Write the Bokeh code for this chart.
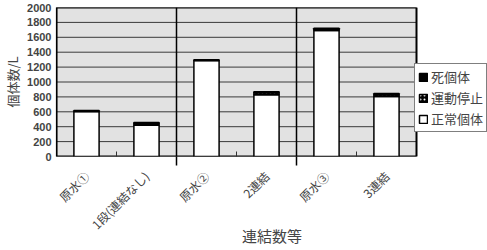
from bokeh.plotting import figure
from bokeh.models import (Range1d, LinearAxis, FixedTicker, Legend, LegendItem, ColumnDataSource)
from bokeh.embed import file_html
from bokeh.resources import INLINE
import math

categories = ["原水①", "1段(連結なし)", "原水②", "2連結", "原水③", "3連結"]
normal = [605, 420, 1290, 830, 1690, 805]
stopped = [0, 25, 0, 25, 15, 25]
dead = [12, 10, 10, 15, 15, 15]
series = ["正常個体", "運動停止", "死個体"]
y_ticks = [0, 200, 400, 600, 800, 1000, 1200, 1400, 1600, 1800, 2000]
separators = [2, 4]
inner_ticks = [1, 3, 5]

JP = "Noto Sans CJK JP"
NUM = "Liberation Sans"

n = len(categories)
xpos = [i + 0.5 for i in range(n)]
src = ColumnDataSource(dict(x=xpos, normal=normal, stopped=stopped, dead=dead))

# frame spans the plot area plus the legend column on the right
p = figure(width=487, height=250, x_range=Range1d(0, n * 431 / 360), y_range=Range1d(0, 2000),
           output_backend="svg", toolbar_location=None, x_axis_location=None,
           min_border_left=56, min_border_right=0, min_border_top=7, min_border_bottom=94)
p.background_fill_color = "white"
p.border_fill_color = "white"
p.outline_line_color = None
p.xgrid.visible = False
p.ygrid.visible = False

# plot area background and grid
p.quad(left=[0], right=[n], bottom=[0], top=[2000], fill_color="#e2e2e2", line_color=None)
p.segment(x0=[0] * len(y_ticks), x1=[n] * len(y_ticks), y0=y_ticks, y1=y_ticks,
          line_color="#3a3a3a", line_width=1)
p.quad(left=[0], right=[n], bottom=[0], top=[2000], fill_color=None,
       line_color="black", line_width=2)

ya = p.yaxis[0]
ya.ticker = FixedTicker(ticks=y_ticks, minor_ticks=[])
ya.axis_label = "個体数/L"
ya.axis_label_text_font = JP
ya.axis_label_text_font_size = "13px"
ya.axis_label_text_font_style = "normal"
ya.axis_label_standoff = 2
ya.major_label_text_font = NUM
ya.major_label_text_font_size = "11px"
ya.major_label_text_font_style = "bold"
ya.major_label_standoff = 5
ya.major_tick_out = 0
ya.major_tick_in = 0
ya.axis_line_color = "black"
ya.axis_line_width = 1.2

# tick-only axis at the frame bottom
tick_axis = LinearAxis(ticker=FixedTicker(ticks=separators, minor_ticks=inner_ticks),
                       major_label_overrides={s: "" for s in separators},
                       major_label_text_font_size="1px", major_label_standoff=0,
                       major_tick_out=9, major_tick_in=0, major_tick_line_width=1.5,
                       minor_tick_in=5, minor_tick_out=0, minor_tick_line_color="#333333",
                       axis_line_color=None)
p.add_layout(tick_axis, "below")

cat_axis = LinearAxis(ticker=FixedTicker(ticks=xpos, minor_ticks=[]),
                      major_label_overrides={x: c for x, c in zip(xpos, categories)},
                      axis_line_color=None, major_tick_line_color=None,
                      major_tick_in=0, major_tick_out=0,
                      major_label_orientation=math.pi / 4,
                      major_label_text_font=JP, major_label_text_font_size="12px",
                      major_label_standoff=8,
                      axis_label="連結数等", axis_label_text_font=JP,
                      axis_label_text_font_size="15px", axis_label_text_font_style="normal",
                      axis_label_standoff=-16)
p.add_layout(cat_axis, "below")

# separator lines
p.segment(x0=separators, x1=separators, y0=[0, 0], y1=[2000, 2000],
          line_color="black", line_width=1.5)

rs = p.vbar_stack(["normal", "stopped", "dead"], x="x", width=0.42, source=src,
                  fill_color=["white", "black", "black"], line_color="black", line_width=1.5,
                  hatch_pattern=[" ", "dot", " "], hatch_color="white", hatch_scale=4)

legend = Legend(items=[LegendItem(label="死個体", renderers=[rs[2]]),
                       LegendItem(label="運動停止", renderers=[rs[1]]),
                       LegendItem(label="正常個体", renderers=[rs[0]])],
                location=(358, 24), label_text_font=JP, label_text_font_size="13px",
                label_standoff=3, glyph_width=10, glyph_height=10, spacing=2,
                padding=3, margin=0, label_height=14,
                border_line_color="black", border_line_width=1,
                background_fill_color="white", background_fill_alpha=1)
p.add_layout(legend, "center")

open("out.html", "w").write(file_html(p, INLINE))
